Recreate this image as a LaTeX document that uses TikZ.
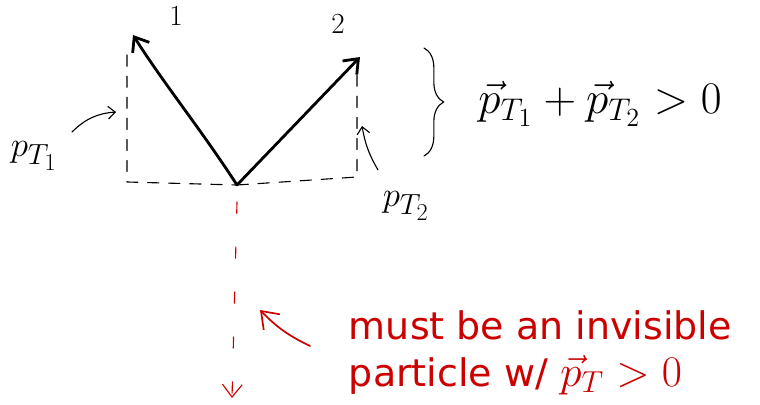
\documentclass[tikz,border=0pt]{standalone}
\usepackage{amsmath, amssymb, graphicx}
\usepackage{fontspec}
\newfontfamily\notefont{DejaVu Sans}
\usetikzlibrary{arrows.meta, decorations.pathreplacing, positioning}
\definecolor{inkred}{HTML}{CC0000}
\tikzset{
  >={Straight Barb[length=9pt, width=14pt]},
  every picture/.style={line cap=round, line join=round},
  track/.style={->, line width=2pt},
  proj/.style={dash pattern=on 8pt off 7pt, thick},
  pointer/.style={->, >={Straight Barb[length=5pt, width=9pt]}, thick},
  missing/.style={->, inkred, thick, dash pattern=on 8pt off 24pt},
  note/.style={inkred, align=left, font=\notefont\fontsize{27}{33}\selectfont},
}
\begin{document}
\begin{tikzpicture}
  \useasboundingbox (0,0) rectangle (19,10.1);
  % ---------------- vertex and the two visible tracks
  \coordinate (vtx) at (5.925,5.475);
  \coordinate (tipA) at (3.325,9.225);
  \coordinate (tipB) at (9.0,8.675);
  \draw[track] (vtx) .. controls (5.0,6.9) and (4.1,8.0) .. (tipA);
  \draw[track] (vtx) -- (tipB);
  \node (labA) at (4.4,9.7) {\huge $1$};
  \node (labB) at (8.45,9.5) {\huge $2$};
  % ---------------- transverse projections
  \coordinate (footA) at (3.175,5.55);
  \coordinate (topA) at (3.175,8.725);
  \coordinate (footB) at (8.925,5.675);
  \coordinate (topB) at (8.925,8.225);
  \draw[proj] (topA) -- (footA) -- (vtx);
  \draw[proj] (vtx) -- (footB) -- (topB);
  \node (ptA) at (0.85,6.2) {\Huge $p_{T_1}$};
  \node (ptB) at (10.15,4.95) {\Huge $p_{T_2}$};
  \coordinate (ptAend) at (2.9,7.3);
  \coordinate (ptBend) at (9.05,6.95);
  \draw[pointer] (1.8,6.8) to[bend left=20] (ptAend);
  \draw[pointer] (9.45,5.85) to[bend left=10] (ptBend);
  % ---------------- momentum balance
  \draw[thick, decorate, decoration={brace, amplitude=14pt}] (10.6,8.9) -- (10.6,6.2);
  \node (sum) at (15.0,7.5) {\scalebox{1.55}{\huge $\vec{p}_{T_1} + \vec{p}_{T_2} > 0$}};
  % ---------------- invisible particle
  \coordinate (vtxlow) at (5.925,5.05);
  \coordinate (lost) at (5.8,0.15);
  \draw[missing] (vtxlow) -- (lost);
  \node[note, anchor=north west] (note) at (8.6,2.45)
    {must be an invisible\\particle w/ \scalebox{1.5}{\huge$\vec{p}_T > 0$}};
  \coordinate (noteend) at (6.5,2.35);
  \draw[->, inkred, very thick, >={Straight Barb[length=11pt, width=16pt]}] (7.75,1.45) to[bend left=10] (noteend);
\end{tikzpicture}
\end{document}
